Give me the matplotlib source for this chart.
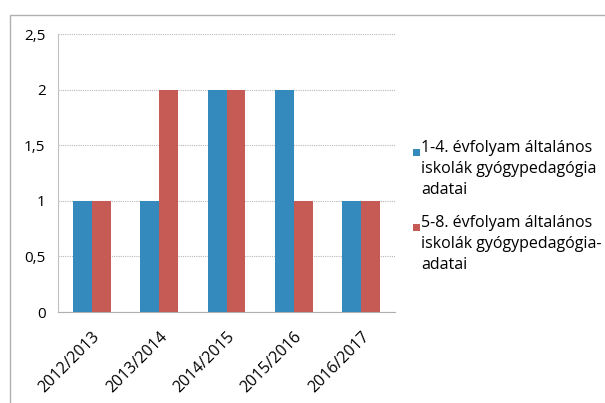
import matplotlib
matplotlib.use("Agg")
import matplotlib.pyplot as plt
from matplotlib.patches import Rectangle
import numpy as np

plt.rcParams['font.family'] = ['Open Sans', 'DejaVu Sans']

categories = ["2012/2013", "2013/2014", "2014/2015", "2015/2016", "2016/2017"]
series1 = [1, 1, 2, 2, 1]
series2 = [1, 2, 2, 1, 1]
labels = ["1-4. évfolyam általános\niskolák gyógypedagógia\nadatai",
          "5-8. évfolyam általános\niskolák gyógypedagógia-\nadatai"]
yticks = [0, 0.5, 1, 1.5, 2, 2.5]
yticklabels = ["0", "0,5", "1", "1,5", "2", "2,5"]

blue = "#3489bd"
red = "#c65a55"
colors = [blue, red]

fig = plt.figure(figsize=(6.05, 4.03), dpi=100)
fig.patches.append(Rectangle((10/605, -0.01), 1.0, 1 - 15/403 + 0.01, transform=fig.transFigure,
                             fill=False, edgecolor="#b0b0b0", linewidth=1.0))
ax = fig.add_axes([58/605, 1 - 312/403, (395 - 58)/605, (312 - 34)/403])

x = np.arange(len(categories))
w = 0.28
ax.bar(x - w/2, series1, w, color=blue, label=labels[0], zorder=3)
ax.bar(x + w/2, series2, w, color=red, label=labels[1], zorder=3)

ax.set_xlim(-0.5, len(categories) - 0.5)
ax.set_ylim(0, 2.5)
ax.set_yticks(yticks)
ax.set_yticklabels(yticklabels, fontsize=11)
ax.set_xticks(x)
ax.set_xticklabels(categories, rotation=45, ha="right", rotation_mode="anchor", fontsize=11.5)
ax.tick_params(axis="y", length=0, pad=9)
ax.tick_params(axis="x", length=0, pad=12)
ax.yaxis.grid(True, color="#b8b8b8", linestyle=(0, (1, 1)), linewidth=0.8, zorder=0)
for s in ["top", "right"]:
    ax.spines[s].set_visible(False)
ax.spines["left"].set_color("#c0c0c0")
ax.spines["left"].set_linestyle((0, (1, 1)))
ax.spines["bottom"].set_color("#b0b0b0")

# legend drawn manually: square aligned with first line of each label
entry_tops = [140, 215]
for lab, col, top in zip(labels, colors, entry_tops):
    fig.patches.append(Rectangle((413/605, 1 - (top + 16)/403), 7/605, 7/403,
                                 transform=fig.transFigure, facecolor=col, edgecolor="none"))
    fig.text(421/605, 1 - top/403, lab, fontsize=11.5, va="top", ha="left", linespacing=1.4)

fig.savefig("out.png", dpi=100)
